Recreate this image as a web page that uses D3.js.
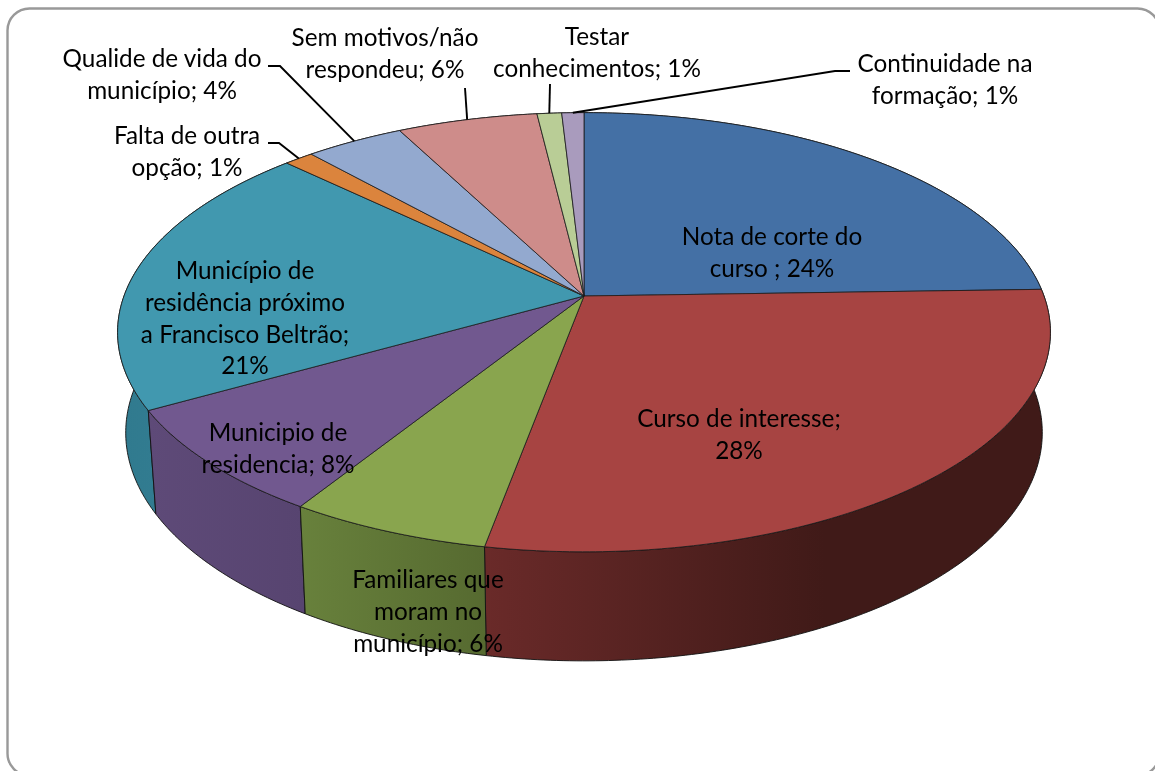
<!DOCTYPE html>
<html>
<head>
<meta charset="utf-8">
<script src="https://cdn.jsdelivr.net/npm/d3@7"></script>
<style>
  html, body { margin: 0; padding: 0; background: #fff; overflow: hidden; }
  svg { display: block; filter: blur(0.35px); }
  text { font-family: Lato, "Noto Sans", sans-serif; font-size: 24.3px; fill: #000; text-anchor: middle; }
</style>
</head>
<body>
<svg id="chart" width="1155" height="771"></svg>
<script>
// values (the printed percents are rounded in the labels)
let categories = ["Nota de corte do curso", "Curso de interesse", "Familiares que moram no município",
                  "Municipio de residencia", "Município de residência próximo a Francisco Beltrão",
                  "Falta de outra opção", "Qualide de vida do município", "Sem motivos/não respondeu",
                  "Testar conhecimentos", "Continuidade na formação"];
let values = [24.5, 28.4, 6.0, 7.9, 20.4, 1.2, 4.0, 5.7, 1.0, 0.9];
let labelLines = [
  ["Nota de corte do", "curso ; 24%"],
  ["Curso de interesse;", "28%"],
  ["Familiares que", "moram no", "município; 6%"],
  ["Municipio de", "residencia; 8%"],
  ["Município de", "residência próximo", "a Francisco Beltrão;", "21%"],
  ["Falta de outra", "opção; 1%"],
  ["Qualide de vida do", "município; 4%"],
  ["Sem motivos/não", "respondeu; 6%"],
  ["Testar", "conhecimentos; 1%"],
  ["Continuidade na", "formação; 1%"]
];
let topColors = ["#4470a5", "#a74442", "#89a54e", "#71588f", "#4198af", "#db843d", "#93a9cf", "#ce8c8a", "#b9cd96", "#a99bbd"];
let sideColors = [["#2f4d72", "#2f4d72"], ["#6a2a29", "#401a18"], ["#68813c", "#566a30"], ["#5e4a78", "#574470"],
                  ["#307a8e", "#388299"], ["#a5632e", "#a5632e"], ["#6f809d", "#6f809d"], ["#9c6968", "#9c6968"],
                  ["#8b9a71", "#8b9a71"], ["#7f748e", "#7f748e"]];

// layout: first baseline of each label, line step, and the outer bend of the leader lines
let labelPos = [[772, 245], [739, 427], [428, 588], [278, 441], [245, 279], [187, 144], [162, 67], [385, 46], [597, 45], [945, 72]];
let lineStep = 31.8;
let leaders = {5: [[268, 143], [279, 143]], 6: [[268, 66], [280, 66]], 7: [[465, 88]], 8: [[550, 84]], 9: [[850, 71], [835, 71]]};

let w = 1155;
let h = 771;

// pie in perspective: rim point of the top face and of the bottom face
let cx = 584;
let k = 0.165;
let topFace = {y0: 296, rx: 460, ry: 213.6};
let bottomFace = {y0: 395, rx: 452, ry: 222};

function rim(face, a) {
  let u = Math.sin(a);
  let v = -Math.cos(a);
  let p = 1 - k * v;
  return [cx + face.rx * u / p, face.y0 + face.ry * v / p];
}

let svg = d3.select("#chart");
let defs = svg.append("defs");
let line = d3.line();

let pie = d3.pie().sort(null).value(d => d);
let arcs = pie(values);

// frame, runs off the right and bottom of the picture
svg.append("rect")
   .attr("x", 7.5)
   .attr("y", 8.5)
   .attr("width", 1152)
   .attr("height", 767)
   .attr("rx", 22)
   .attr("fill", "#fff")
   .attr("stroke", "#999")
   .attr("stroke-width", 2.4);

function angles(d) {
  let n = Math.max(2, Math.ceil((d.endAngle - d.startAngle) / 0.012));
  return d3.range(n + 1).map(i => d.startAngle + (d.endAngle - d.startAngle) * i / n);
}

// side walls first, furthest ones first
let order = d3.range(arcs.length).sort((a, b) =>
  d3.ascending(-Math.cos((arcs[a].startAngle + arcs[a].endAngle) / 2), -Math.cos((arcs[b].startAngle + arcs[b].endAngle) / 2)));

order.forEach(i => {
  let ang = angles(arcs[i]);
  let upper = ang.map(a => rim(topFace, a));
  let lower = ang.map(a => rim(bottomFace, a)).reverse();
  let xs = d3.extent(upper.concat(lower), p => p[0]);
  let grad = defs.append("linearGradient")
     .attr("id", "side" + i)
     .attr("gradientUnits", "userSpaceOnUse")
     .attr("x1", xs[0]).attr("x2", xs[1]).attr("y1", 0).attr("y2", 0);
  grad.append("stop").attr("offset", 0).attr("stop-color", sideColors[i][0]);
  grad.append("stop").attr("offset", i == 1 ? 0.6 : 1).attr("stop-color", sideColors[i][1]);
  svg.append("path")
     .attr("d", line(upper.concat(lower)) + "Z")
     .attr("fill", "url(#side" + i + ")")
     .attr("stroke", "#111")
     .attr("stroke-width", 0.9)
     .attr("stroke-linejoin", "round");
});

// top face
arcs.forEach((d, i) => {
  let pts = [[cx, topFace.y0]].concat(angles(d).map(a => rim(topFace, a)));
  svg.append("path")
     .attr("d", line(pts) + "Z")
     .attr("fill", topColors[i])
     .attr("stroke", "#1a1a1a")
     .attr("stroke-width", 0.8)
     .attr("stroke-linejoin", "round");
});

// leader lines end on the rim at the middle of the slice
Object.keys(leaders).forEach(i => {
  let d = arcs[i];
  let end = rim(topFace, (d.startAngle + d.endAngle) / 2);
  svg.append("path")
     .attr("d", line(leaders[i].concat([end])))
     .attr("fill", "none")
     .attr("stroke", "#000")
     .attr("stroke-width", 1.9);
});

// labels
labelLines.forEach((lines, i) => {
  let t = svg.append("text").attr("class", "label");
  lines.forEach((s, j) => {
    t.append("tspan")
     .attr("x", labelPos[i][0])
     .attr("y", labelPos[i][1] + j * lineStep)
     .text(s);
  });
});
</script>
</body>
</html>
